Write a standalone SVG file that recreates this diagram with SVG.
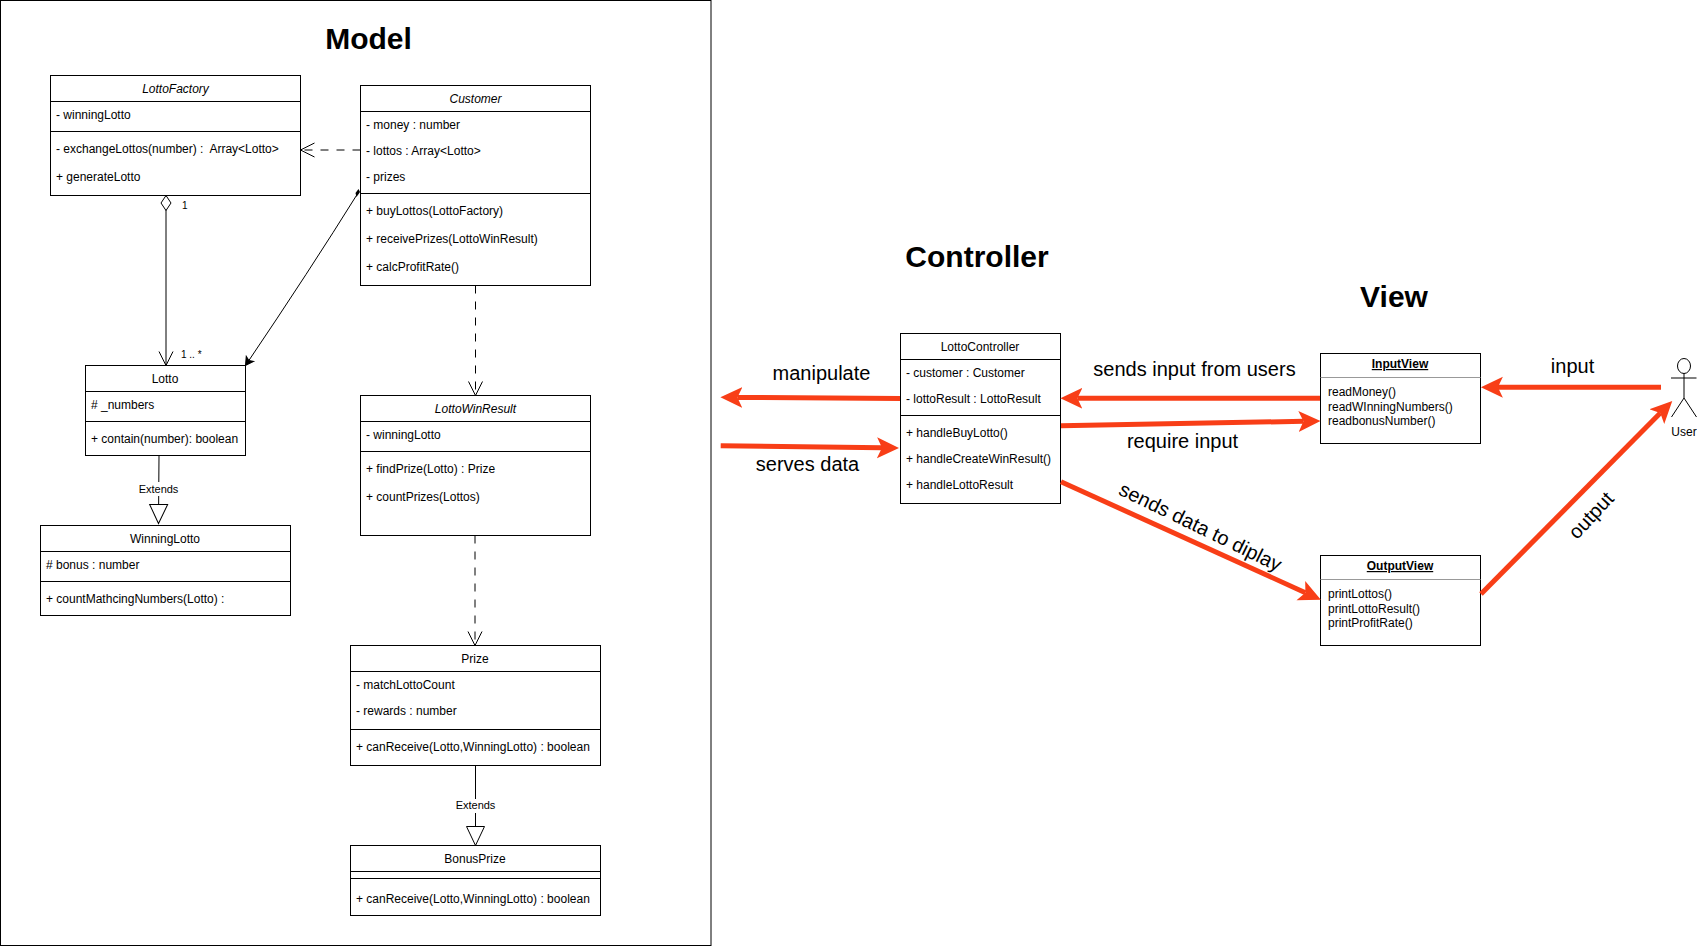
<svg xmlns="http://www.w3.org/2000/svg" width="1697" height="946" viewBox="0 0 1697 946">
<style>
text{font-family:"Liberation Sans",Arial,Helvetica,sans-serif;fill:#000}
.t{font-size:12px}
.m{text-anchor:middle}
.i{font-style:italic}
.h{font-size:30px;font-weight:bold;text-anchor:middle}
.l{font-size:20px;text-anchor:middle}
.box{fill:#fff;stroke:#000;stroke-width:1}
.sep{stroke:#000;stroke-width:1;fill:none}
.gsep{stroke:#999;stroke-width:1;fill:none}
.c{stroke:#000;stroke-width:1;fill:none}
.d{stroke:#000;stroke-width:1;fill:none;stroke-dasharray:8 8}
.r{stroke:#f83e17;stroke-width:5;fill:none;marker-end:url(#red)}
.lab{fill:#fff;stroke:none}
</style>
<defs>
<marker id="red" markerUnits="userSpaceOnUse" markerWidth="24" markerHeight="24" viewBox="0 -12 24 24" refX="5" refY="0" orient="auto"><path d="M0,-10.5L22,0L0,10.5L5,0Z" fill="#f83e17"/></marker>
<marker id="open" markerUnits="userSpaceOnUse" markerWidth="18" markerHeight="18" viewBox="-16 -9 18 18" refX="0" refY="0" orient="auto"><path d="M-14,-7L0,0L-14,7" fill="none" stroke="#000"/></marker>
<marker id="tri" markerUnits="userSpaceOnUse" markerWidth="24" markerHeight="24" viewBox="-20 -12 22 24" refX="0" refY="0" orient="auto"><path d="M-19,-9L0,0L-19,9Z" fill="#fff" stroke="#000"/></marker>
<marker id="solid" markerUnits="userSpaceOnUse" markerWidth="12" markerHeight="12" viewBox="-10 -6 12 12" refX="0" refY="0" orient="auto"><path d="M-8,-4.5L0,0L-8,4.5L-6,0Z" fill="#000" stroke="#000"/></marker>
<marker id="dia" markerUnits="userSpaceOnUse" markerWidth="20" markerHeight="14" viewBox="-1 -7 20 14" refX="0" refY="0" orient="auto"><path d="M0,0L7.5,-5L15,0L7.5,5Z" fill="#fff" stroke="#000"/></marker>
</defs>
<rect width="1697" height="946" fill="#fff"/>
<rect x="0.5" y="0.5" width="710.5" height="945" fill="#fff" stroke="#000"/>
<text class="h" x="368.5" y="49">Model</text>
<text class="h" x="977" y="267">Controller</text>
<text class="h" x="1394" y="307">View</text>

<g id="connectors">
<path class="d" d="M360.5,150H300.5" marker-end="url(#open)"/>
<path class="c" d="M166,195.5V365.5" marker-start="url(#dia)" marker-end="url(#open)"/>
<path class="c" d="M358,193Q310,270 245.5,365.5" marker-end="url(#solid)"/>
<path d="M358.5,189L360,192L356.5,197L355.5,193Z" fill="#000"/>
<path class="d" d="M475.5,285.5V395.5" marker-end="url(#open)"/>
<path class="d" d="M475,535.5V645.5" marker-end="url(#open)"/>
<path class="c" d="M159,455.5L158.5,523.5" marker-end="url(#tri)"/>
<rect class="lab" x="137" y="482" width="44" height="14"/>
<text class="t m" x="158.5" y="493" style="font-size:11px">Extends</text>
<path class="c" d="M475.5,765.5V845.5" marker-end="url(#tri)"/>
<rect class="lab" x="453" y="799" width="44" height="14"/>
<text class="t m" x="475.5" y="809" style="font-size:11px">Extends</text>
<text class="t" x="182" y="209" style="font-size:10px">1</text>
<text class="t" x="181" y="358" style="font-size:10px">1 .. *</text>
</g>

<g id="LottoFactory"><rect class="box" x="50.5" y="75.5" width="250" height="120"/><path class="sep" d="M50.5,101.5H300.5M50.5,131.5H300.5"/>
<text class="t m i" x="175.5" y="93">LottoFactory</text>
<text class="t" x="56" y="119">- winningLotto</text>
<text class="t" x="56" y="153" xml:space="preserve">- exchangeLottos(number) :  Array&lt;Lotto&gt;</text>
<text class="t" x="56" y="181">+ generateLotto</text></g>

<g id="Customer"><rect class="box" x="360.5" y="85.5" width="230" height="200"/><path class="sep" d="M360.5,111.5H590.5M360.5,193.5H590.5"/>
<text class="t m i" x="475.5" y="103">Customer</text>
<text class="t" x="366" y="129">- money : number</text>
<text class="t" x="366" y="155">- lottos : Array&lt;Lotto&gt;</text>
<text class="t" x="366" y="181">- prizes</text>
<text class="t" x="366" y="215">+ buyLottos(LottoFactory)</text>
<text class="t" x="366" y="243">+ receivePrizes(LottoWinResult)</text>
<text class="t" x="366" y="271">+ calcProfitRate()</text></g>

<g id="Lotto"><rect class="box" x="85.5" y="365.5" width="160" height="90"/><path class="sep" d="M85.5,391.5H245.5M85.5,421.5H245.5"/>
<text class="t m" x="165" y="383">Lotto</text>
<text class="t" x="91" y="409"># _numbers</text>
<text class="t" x="91" y="443">+ contain(number): boolean</text></g>

<g id="LottoWinResult"><rect class="box" x="360.5" y="395.5" width="230" height="140"/><path class="sep" d="M360.5,421.5H590.5M360.5,451.5H590.5"/>
<text class="t m i" x="475.5" y="413">LottoWinResult</text>
<text class="t" x="366" y="439">- winningLotto</text>
<text class="t" x="366" y="473">+ findPrize(Lotto) : Prize</text>
<text class="t" x="366" y="501">+ countPrizes(Lottos)</text></g>

<g id="WinningLotto"><rect class="box" x="40.5" y="525.5" width="250" height="90"/><path class="sep" d="M40.5,551.5H290.5M40.5,581.5H290.5"/>
<text class="t m" x="165" y="543">WinningLotto</text>
<text class="t" x="46" y="569"># bonus : number</text>
<text class="t" x="46" y="603">+ countMathcingNumbers(Lotto) :</text></g>

<g id="Prize"><rect class="box" x="350.5" y="645.5" width="250" height="120"/><path class="sep" d="M350.5,671.5H600.5M350.5,729.5H600.5"/>
<text class="t m" x="475" y="663">Prize</text>
<text class="t" x="356" y="689">- matchLottoCount</text>
<text class="t" x="356" y="715">- rewards : number</text>
<text class="t" x="356" y="751">+ canReceive(Lotto,WinningLotto) : boolean</text></g>

<g id="BonusPrize"><rect class="box" x="350.5" y="845.5" width="250" height="70"/><path class="sep" d="M350.5,871.5H600.5M350.5,878.5H600.5"/>
<text class="t m" x="475" y="863">BonusPrize</text>
<text class="t" x="356" y="903">+ canReceive(Lotto,WinningLotto) : boolean</text></g>

<g id="LottoController"><rect class="box" x="900.5" y="333.5" width="160" height="170"/><path class="sep" d="M900.5,359.5H1060.5M900.5,415.5H1060.5"/>
<text class="t m" x="980" y="351">LottoController</text>
<text class="t" x="906" y="377">- customer : Customer</text>
<text class="t" x="906" y="403">- lottoResult : LottoResult</text>
<text class="t" x="906" y="437">+ handleBuyLotto()</text>
<text class="t" x="906" y="463">+ handleCreateWinResult()</text>
<text class="t" x="906" y="489">+ handleLottoResult</text></g>

<g id="InputView"><rect class="box" x="1320.5" y="353.5" width="160" height="90"/><path class="gsep" d="M1320.5,377.5H1480.5"/>
<text class="t m" x="1400" y="368" font-weight="bold" text-decoration="underline">InputView</text>
<text class="t" x="1328" y="396">readMoney()</text>
<text class="t" x="1328" y="411">readWInningNumbers()</text>
<text class="t" x="1328" y="425">readbonusNumber()</text></g>

<g id="OutputView"><rect class="box" x="1320.5" y="555.5" width="160" height="90"/><path class="gsep" d="M1320.5,579.5H1480.5"/>
<text class="t m" x="1400" y="570" font-weight="bold" text-decoration="underline">OutputView</text>
<text class="t" x="1328" y="598">printLottos()</text>
<text class="t" x="1328" y="613">printLottoResult()</text>
<text class="t" x="1328" y="627">printProfitRate()</text></g>

<g id="User"><ellipse cx="1684" cy="366" rx="6.5" ry="7.5" fill="#fff" stroke="#000"/><path class="c" d="M1684,373.5V398M1671,378H1696.5M1684,398L1671.5,417M1684,398L1696.5,417"/>
<text class="t m" x="1684" y="436">User</text></g>

<g id="flows">
<path class="r" d="M900,398.5L737.4,397.4"/>
<path class="r" d="M720.7,445.7L882,447.8"/>
<path class="r" d="M1320,398.3H1077.4"/>
<path class="r" d="M1061,425.7L1303.5,421.3"/>
<path class="r" d="M1061,481.7L1305.4,592.7"/>
<path class="r" d="M1481,594L1660.3,413.1"/>
<path class="r" d="M1661,387.3H1497.9"/>
<text class="l" x="821.5" y="380">manipulate</text>
<text class="l" x="807.5" y="471">serves data</text>
<text class="l" x="1194.5" y="376">sends input from users</text>
<text class="l" x="1182.5" y="448">require input</text>
<text class="l" transform="translate(1197.5,533) rotate(26)">sends data to diplay</text>
<text class="l" transform="translate(1596,520) rotate(-47)">output</text>
<text class="l" x="1572.5" y="373">input</text>
</g>
</svg>
